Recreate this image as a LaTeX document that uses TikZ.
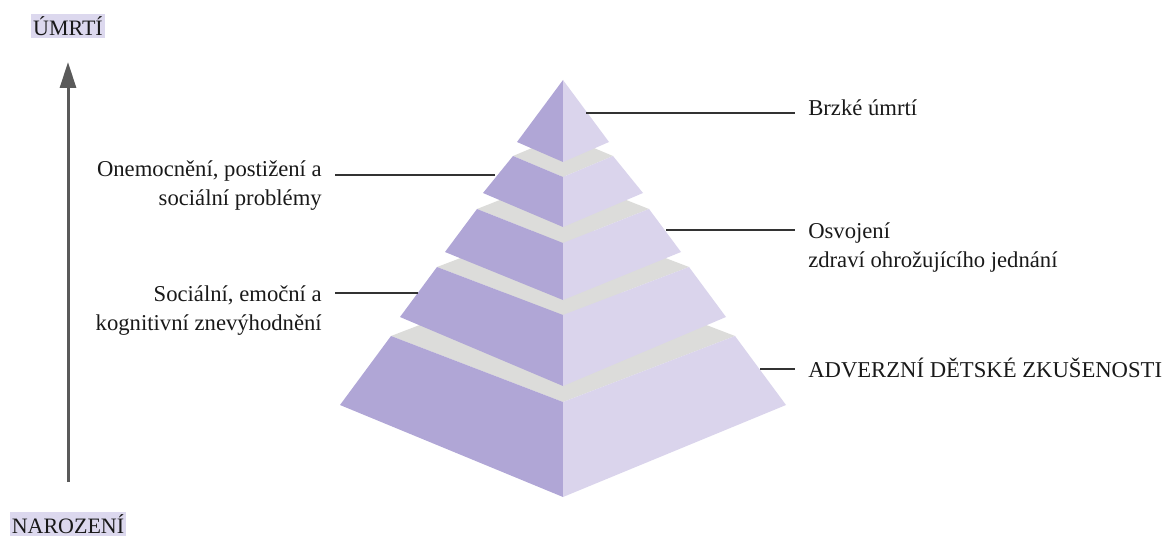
\documentclass[tikz,border=0pt]{standalone}
\usepackage{fontspec}
\setmainfont{Liberation Serif}
\usetikzlibrary{arrows.meta}
\definecolor{darkface}{HTML}{B0A6D6}
\definecolor{lightface}{HTML}{DAD4EC}
\definecolor{topgray}{HTML}{DCDCDA}
\definecolor{markbg}{HTML}{DCD8EE}
\definecolor{inkgray}{HTML}{5A5A5A}
\begin{document}
\begin{tikzpicture}[x=0.75pt,y=-0.75pt]
      \useasboundingbox (0,0) rectangle (1169,538);
      \tikzstyle{tag} = [font=\fontsize{17}{21.4}\selectfont, text=black!90, inner xsep=9.75pt, inner ysep=0pt];
      \tikzstyle{endmark} = [font=\fontsize{16.5}{21.4}\selectfont, text=black!90, fill=markbg, inner xsep=1.5pt, inner ysep=2pt];
      \tikzstyle{leader} = [draw=black!80, line width=1pt];
      % pyramid, bottom layer first
      \foreach \ya/\wa/\fa/\yb/\wb/\fb in {336/172/402/405/223/497, 267/126/315/317/163/386, 209/86/243/252/118/300, 156/50/177/193/80/227} {
        \fill[topgray] (563-\wa,\ya) -- (563,\fa) -- (563+\wa,\ya) -- (563,2*\ya-\fa) -- cycle;
        \fill[darkface] (563-\wa,\ya) -- (563,\fa) -- (563,\fb) -- (563-\wb,\yb) -- cycle;
        \fill[lightface] (563+\wa,\ya) -- (563,\fa) -- (563,\fb) -- (563+\wb,\yb) -- cycle;
      }
      \fill[darkface] (563,80) -- (517,142) -- (563,162) -- cycle;
      \fill[lightface] (563,80) -- (609,142) -- (563,162) -- cycle;
      % time axis
      \node (top) [endmark] at (68,26) {ÚMRTÍ};
      \node (bottom) [endmark] at (68,524) {NAROZENÍ};
      \coordinate (axisfrom) at (68,482);
      \coordinate (axisto) at (68,62);
      \draw [inkgray, line width=2.25pt, -{Triangle[length=19.5pt,width=12pt]}] (axisfrom) -- (axisto);
      % labels
      \node (brzke) [tag, anchor=base west] at (795,116) {Brzké úmrtí};
      \node (osvojeni) [tag, anchor=base west, align=left] at (795,267) {Osvojení\\zdraví ohrožujícího jednání};
      \node (ace) [tag, anchor=base west] at (795,377) {ADVERZNÍ DĚTSKÉ ZKUŠENOSTI};
      \node (nemoc) [tag, anchor=base east, align=right] at (335,205) {Onemocnění, postižení a\\sociální problémy};
      \node (znev) [tag, anchor=base east, align=right] at (335,330) {Sociální, emoční a\\kognitivní znevýhodnění};
      \coordinate (p1) at (586,113);
      \coordinate (p2) at (666,230);
      \coordinate (p3) at (760,369);
      \coordinate (p4) at (495,175);
      \coordinate (p5) at (418,293);
      \draw [leader] (p1) -- (p1 -| brzke.west);
      \draw [leader] (p2) -- (p2 -| osvojeni.west);
      \draw [leader] (p3) -- (p3 -| ace.west);
      \draw [leader] (p4) -- (p4 -| nemoc.east);
      \draw [leader] (p5) -- (p5 -| znev.east);
    \end{tikzpicture}
\end{document}
